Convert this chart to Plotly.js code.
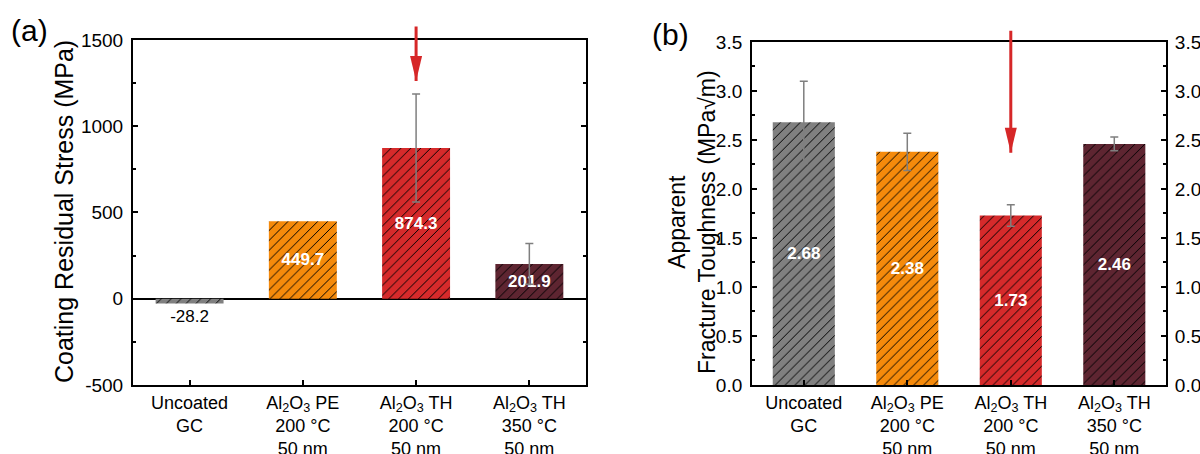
<!DOCTYPE html>
<html>
<head>
<meta charset="utf-8">
<script src="https://cdn.plot.ly/plotly-3.0.1.min.js"></script>
<style>html,body{margin:0;padding:0;background:#fff;}#chart{width:1200px;height:454px;}</style>
</head>
<body>
<div id="chart"></div>
<script>
// ---- data ----
const categories = [
  "Uncoated<br>GC",
  "Al<sub>2</sub>O<sub>3</sub> PE<br>200 °C<br>50 nm",
  "Al<sub>2</sub>O<sub>3</sub> TH<br>200 °C<br>50 nm",
  "Al<sub>2</sub>O<sub>3</sub> TH<br>350 °C<br>50 nm"
];
const barColors = ["#808080", "#F58A0B", "#D62A2B", "#5E2531"];
const stressValues = [-28.2, 449.7, 874.3, 201.9];
const stressErrors = [null, null, 313, 118];
const toughnessValues = [2.68, 2.38, 1.73, 2.46];
const toughnessErrors = [0.42, 0.19, 0.11, 0.07];
const stressTicks = [-500, 0, 500, 1000, 1500];
const stressTickText = ["-500", "0", "500", "1000", "1500"];
const toughnessTicks = [0, 0.5, 1.0, 1.5, 2.0, 2.5, 3.0, 3.5];
const arrowA = {x: 2, tip: 1262, tail: 1587};
const arrowB = {x: 2, tip: 2.37, tail: 3.63};

const FONT = "Arial, 'Liberation Sans', Helvetica, sans-serif";
const RED = "#D62728";

function makeBars(values, errors, decimals, xa, ya) {
  return values.map((v, i) => {
    const inside = v > 0;
    const t = {
      type: "bar", x: [categories[i]], y: [v], xaxis: xa, yaxis: ya,
      width: 0.6,
      marker: {
        color: barColors[i], line: {width: 0},
        pattern: {shape: "/", fillmode: "replace", bgcolor: barColors[i], fgcolor: "#000000",
                  fgopacity: 1, size: 7, solidity: 0.14}
      },
      text: [v.toFixed(decimals)],
      texttemplate: "%{text}",
      textposition: inside ? "inside" : "outside",
      insidetextanchor: "middle",
      textangle: 0,
      constraintext: "none",
      cliponaxis: false,
      textfont: {family: FONT, size: 17, color: inside ? "#fff" : "#000", weight: inside ? "bold" : "normal"},
      hoverinfo: "skip", showlegend: false
    };
    if (errors[i] !== null) {
      t.error_y = {type: "data", array: [errors[i]], visible: true, color: "#7f7f7f", thickness: 1.5, width: 4};
    }
    return t;
  });
}

const tracesA = makeBars(stressValues, stressErrors, 1, "x", "y");
const tracesB = makeBars(toughnessValues, toughnessErrors, 2, "x2", "y2");
const traceB3 = {type: "scatter", x: [], y: [], xaxis: "x2", yaxis: "y3", showlegend: false, hoverinfo: "skip"};

const yCommon = {
  showline: true, linecolor: "#000", linewidth: 2, showgrid: false,
  ticks: "inside", ticklen: 5, tickwidth: 2, tickcolor: "#000",
  tickfont: {family: FONT, size: 19, color: "#000"},
  ticklabelstandoff: 4,
  minor: {ticks: "inside", ticklen: 3, tickwidth: 2, tickcolor: "#000", showgrid: false},
  fixedrange: true
};
const xCommon = {
  type: "category", range: [-0.5, 3.5], categoryorder: "array", categoryarray: categories,
  showline: true, linecolor: "#000", linewidth: 2, mirror: true, showgrid: false,
  ticks: "inside", ticklen: 5, tickwidth: 2, tickcolor: "#000",
  tickfont: {family: FONT, size: 18, color: "#000"},
  zeroline: false, fixedrange: true
};

const layout = {
  width: 1200, height: 454,
  margin: {l: 0, r: 0, t: 0, b: 0},
  paper_bgcolor: "#fff", plot_bgcolor: "#fff",
  font: {family: FONT, color: "#000"},
  showlegend: false,
  barmode: "overlay",
  xaxis: Object.assign({}, xCommon, {domain: [0.1108, 0.4883], anchor: "y"}),
  yaxis: Object.assign({}, yCommon, {
    domain: [0.152, 0.912], anchor: "x", range: [-500, 1500],
    tickmode: "array", tickvals: stressTicks, ticktext: stressTickText,
    minor: Object.assign({}, yCommon.minor, {dtick: 250, tick0: 0}),
    mirror: "allticks", zeroline: true, zerolinecolor: "#000", zerolinewidth: 2
  }),
  xaxis2: Object.assign({}, xCommon, {domain: [0.6267, 0.9717], anchor: "y2"}),
  yaxis2: Object.assign({}, yCommon, {
    domain: [0.152, 0.9075], anchor: "x2", range: [0, 3.5],
    tickmode: "array", tickvals: toughnessTicks, tickformat: ".1f",
    minor: Object.assign({}, yCommon.minor, {dtick: 0.25, tick0: 0}),
    zeroline: false
  }),
  yaxis3: Object.assign({}, yCommon, {
    overlaying: "y2", side: "right", anchor: "x2", range: [0, 3.5],
    tickmode: "array", tickvals: toughnessTicks, tickformat: ".1f",
    ticklabelstandoff: 3,
    minor: Object.assign({}, yCommon.minor, {dtick: 0.25, tick0: 0}),
    zeroline: false
  }),
  annotations: [
    {xref: "paper", yref: "paper", x: 64 / 1200, y: 1 - 212 / 454, text: "Coating Residual Stress (MPa)",
     textangle: -90, showarrow: false, font: {family: FONT, size: 25, color: "#000"}, xanchor: "center", yanchor: "middle"},
    {xref: "paper", yref: "paper", x: 692 / 1200, y: 1 - 222 / 454, text: "Apparent<br>Fracture Toughness (MPa√m)",
     textangle: -90, showarrow: false, align: "center", font: {family: FONT, size: 23, color: "#000"}, xanchor: "center", yanchor: "middle"},
    {xref: "paper", yref: "paper", x: 29 / 1200, y: 1 - 31 / 454, text: "(a)", showarrow: false,
     font: {family: FONT, size: 30, color: "#000"}, xanchor: "center", yanchor: "middle"},
    {xref: "paper", yref: "paper", x: 670 / 1200, y: 1 - 34 / 454, text: "(b)", showarrow: false,
     font: {family: FONT, size: 30, color: "#000"}, xanchor: "center", yanchor: "middle"},
    {xref: "x", yref: "y", x: arrowA.x, y: arrowA.tip, axref: "x", ayref: "y", ax: arrowA.x, ay: arrowA.tail,
     text: "", showarrow: true, arrowhead: 0, arrowwidth: 3, arrowcolor: RED, standoff: 0, startstandoff: 0},
    {xref: "x2", yref: "y2", x: arrowB.x, y: arrowB.tip, axref: "x2", ayref: "y2", ax: arrowB.x, ay: arrowB.tail,
     text: "", showarrow: true, arrowhead: 0, arrowwidth: 3, arrowcolor: RED, standoff: 0, startstandoff: 0}
  ],
  shapes: [
    {type: "path", xref: "x", yref: "y", xsizemode: "pixel", ysizemode: "pixel", xanchor: arrowA.x, yanchor: arrowA.tip,
     path: "M-6,25 L6,25 L0,0 Z", fillcolor: RED, line: {width: 0}, layer: "above"},
    {type: "path", xref: "x2", yref: "y2", xsizemode: "pixel", ysizemode: "pixel", xanchor: arrowB.x, yanchor: arrowB.tip,
     path: "M-6,25 L6,25 L0,0 Z", fillcolor: RED, line: {width: 0}, layer: "above"}
  ]
};

Plotly.newPlot("chart", tracesA.concat(tracesB, [traceB3]), layout, {staticPlot: true, displayModeBar: false});
</script>
</body>
</html>
